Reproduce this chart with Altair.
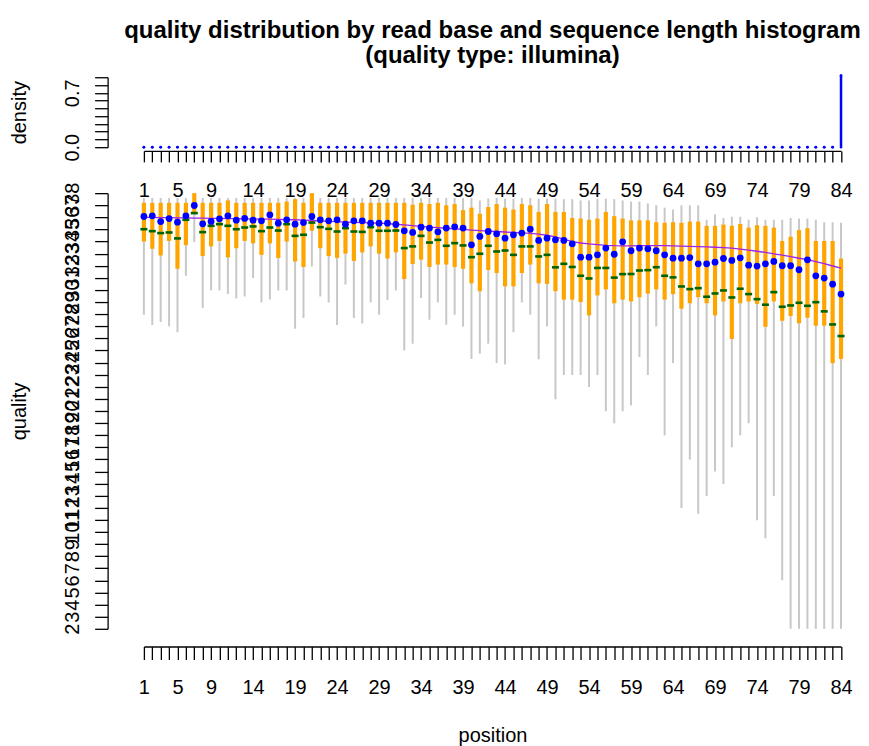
import json
import altair as alt
import pandas as pd

# ---------------- data ----------------
positions = list(range(1, 85))
x_label_values = [1, 5, 9, 14, 19, 24, 29, 34, 39, 44, 49, 54, 59, 64, 69, 74, 79, 84]

# sequence length histogram (density per length)
density = [0.0, 0.0, 0.0, 0.0, 0.0, 0.0, 0.0, 0.0, 0.0, 0.0,
           0.0, 0.0, 0.0, 0.0, 0.0, 0.0, 0.0, 0.0, 0.0, 0.0,
           0.0, 0.0, 0.0, 0.0, 0.0, 0.0, 0.0, 0.0, 0.0, 0.0,
           0.0, 0.0, 0.0, 0.0, 0.0, 0.0, 0.0, 0.0, 0.0, 0.0,
           0.0, 0.0, 0.0, 0.0, 0.0, 0.0, 0.0, 0.0, 0.0, 0.0,
           0.0, 0.0, 0.0, 0.0, 0.0, 0.0, 0.0, 0.0, 0.0, 0.0,
           0.0, 0.0, 0.0, 0.0, 0.0, 0.0, 0.0, 0.0, 0.0, 0.0,
           0.0, 0.0, 0.0, 0.0, 0.0, 0.0, 0.0, 0.0, 0.0, 0.0,
           0.0, 0.0, 0.0, 0.92]

# grey whisker (low / high)
whisker_lo = [27.95, 27.1, 27.35, 27.0, 26.5, 31.17, 33.95, 28.5, 29.96, 29.96,
              29.66, 29.3, 29.46, 30.98, 28.97, 29.21, 29.96, 29.96, 26.8, 27.68,
              31.94, 29.46, 28.97, 27.1, 30.45, 27.68, 27.23, 28.97, 27.95, 29.16,
              29.96, 25.0, 25.56, 29.33, 27.54, 28.97, 27.13, 27.95, 26.97, 24.3,
              24.73, 25.56, 23.96, 23.85, 26.5, 28.97, 27.95, 24.27, 26.99, 20.96,
              22.97, 22.97, 22.97, 21.98, 22.97, 19.97, 18.98, 19.97, 20.46, 24.46,
              22.97, 26.99, 17.98, 23.96, 11.99, 15.98, 11.5, 12.98, 14.99, 13.97,
              17.0, 17.98, 18.98, 10.97, 9.48, 12.98, 6.01, 2.0, 2.0, 2.0,
              2.0, 2.0, 2.0, 2.0]
whisker_hi = [37.6, 37.6, 37.6, 37.6, 37.6, 37.6, 38.0, 37.6, 37.6, 37.6,
              37.6, 37.6, 37.6, 37.6, 37.6, 37.6, 37.6, 37.6, 37.6, 37.6,
              38.0, 37.6, 37.6, 37.6, 37.6, 37.6, 37.6, 37.6, 37.6, 37.6,
              37.6, 37.6, 37.6, 37.6, 37.6, 37.6, 37.6, 37.6, 37.6, 37.6,
              37.4, 37.55, 37.6, 37.55, 37.55, 37.6, 37.6, 37.55, 37.55, 37.55,
              37.5, 37.5, 37.4, 37.4, 37.55, 37.55, 37.5, 37.4, 37.3, 37.3,
              37.15, 37.0, 36.8, 36.65, 37.0, 37.0, 37.0, 35.8, 36.25, 35.95,
              36.05, 36.05, 35.8, 36.0, 35.8, 35.8, 35.8, 35.95, 35.9, 35.9,
              35.8, 35.6, 35.6, 35.55]

# orange bar (lower / upper quartile)
q1 = [34.0, 33.4, 32.85, 34.05, 31.75, 33.7, 36.4, 32.8, 33.6, 34.05,
      32.7, 33.45, 34.05, 33.85, 32.9, 33.85, 32.65, 34.0, 32.35, 31.9,
      34.9, 33.45, 32.8, 32.65, 33.0, 32.4, 33.1, 33.6, 33.0, 32.6,
      33.1, 30.9, 32.15, 32.5, 31.9, 32.1, 32.1, 31.9, 31.75, 30.55,
      29.9, 31.65, 31.4, 30.3, 30.3, 31.4, 32.1, 30.55, 30.5, 29.9,
      29.2, 29.2, 29.0, 27.9, 29.55, 30.05, 28.9, 29.2, 29.05, 29.4,
      29.7, 30.05, 29.2, 29.65, 28.45, 28.9, 29.4, 28.9, 27.9, 29.05,
      25.95, 28.9, 29.05, 28.85, 26.95, 29.05, 27.45, 27.85, 27.25, 27.7,
      27.05, 27.05, 23.95, 24.3]
q3 = [37.2, 37.2, 37.2, 37.2, 37.2, 37.2, 38.0, 37.2, 37.2, 37.2,
      37.4, 37.2, 37.2, 37.2, 37.2, 37.2, 37.2, 37.3, 37.5, 37.2,
      38.0, 37.2, 37.2, 37.2, 37.2, 37.2, 37.2, 37.2, 37.2, 37.2,
      37.2, 37.2, 37.05, 37.2, 37.1, 37.2, 37.0, 37.1, 36.6, 36.8,
      36.3, 36.85, 37.1, 36.8, 36.65, 37.1, 37.0, 36.45, 37.1, 36.45,
      36.45, 35.95, 35.9, 35.8, 35.9, 36.45, 36.1, 35.9, 35.75, 35.75,
      35.75, 35.6, 35.55, 35.6, 35.55, 35.65, 35.65, 35.3, 35.3, 35.4,
      35.3, 35.45, 35.15, 35.35, 35.3, 35.15, 34.05, 34.4, 34.95, 35.1,
      34.05, 34.05, 34.05, 32.6]

# blue dots
blue_q = [36.07, 36.13, 35.65, 35.9, 35.6, 36.13, 36.98, 35.47, 35.66, 35.88,
          36.13, 35.77, 35.91, 35.77, 35.71, 36.21, 35.52, 35.8, 35.44, 35.57,
          36.07, 35.8, 35.71, 35.8, 35.44, 35.71, 35.71, 35.52, 35.52, 35.52,
          35.41, 34.89, 34.75, 35.19, 35.11, 34.8, 35.11, 35.22, 35.11, 33.73,
          34.42, 34.83, 34.64, 34.28, 34.56, 34.7, 35.02, 34.09, 34.28, 34.14,
          34.09, 33.81, 32.71, 32.71, 32.9, 33.46, 32.95, 33.98, 33.24, 33.46,
          33.4, 33.24, 32.9, 32.63, 32.63, 32.68, 32.16, 32.16, 32.3, 32.6,
          32.44, 32.66, 32.05, 31.97, 32.16, 32.36, 32.0, 32.0, 31.67, 32.49,
          31.17, 30.98, 30.48, 29.66]

# dark green dashes
green_q = [35.02, 34.86, 34.7, 34.75, 34.26, 35.8, 36.35, 34.78, 35.3, 35.44,
           35.3, 35.02, 35.16, 35.25, 34.86, 35.16, 34.91, 35.44, 34.47, 34.56,
           35.57, 35.19, 35.05, 34.83, 35.11, 34.83, 34.8, 35.19, 34.89, 34.89,
           34.91, 33.46, 33.6, 34.47, 33.92, 34.14, 33.65, 33.87, 33.68, 32.71,
           32.99, 33.65, 33.18, 33.26, 32.9, 33.6, 33.6, 32.77, 32.9, 31.87,
           32.16, 31.9, 31.17, 30.95, 31.82, 31.82, 31.02, 31.31, 31.32, 31.61,
           31.64, 31.88, 31.17, 31.04, 30.29, 30.07, 30.15, 29.44, 29.71, 29.96,
           29.38, 30.1, 29.66, 29.24, 28.78, 29.82, 28.61, 28.72, 28.94, 28.69,
           28.99, 28.23, 27.15, 26.19]

# purple smooth curve
trend = [36.0, 36.0, 35.98, 35.97, 35.96, 35.95, 35.94, 35.93, 35.92, 35.91,
         35.9, 35.89, 35.88, 35.87, 35.86, 35.85, 35.84, 35.82, 35.8, 35.77,
         35.74, 35.71, 35.67, 35.64, 35.61, 35.58, 35.56, 35.54, 35.52, 35.48,
         35.43, 35.37, 35.31, 35.25, 35.2, 35.15, 35.1, 35.05, 35.0, 34.95,
         34.9, 34.86, 34.83, 34.79, 34.75, 34.71, 34.67, 34.62, 34.52, 34.38,
         34.2, 34.0, 33.88, 33.8, 33.74, 33.69, 33.66, 33.65, 33.65, 33.66,
         33.67, 33.67, 33.66, 33.64, 33.62, 33.6, 33.58, 33.56, 33.53, 33.5,
         33.45, 33.38, 33.3, 33.2, 33.1, 32.98, 32.87, 32.75, 32.62, 32.5,
         32.35, 32.17, 31.98, 31.8]

quality_ticks = list(range(2, 39))
density_ticks = [0.0, 0.1, 0.2, 0.3, 0.4, 0.5, 0.6, 0.7, 0.8, 0.9]
density_labels = [0.0, 0.7]

title_lines = ["quality distribution by read base and sequence length histogram",
               "(quality type: illumina)"]

df = pd.DataFrame({
    "pos": positions, "density": density,
    "wlo": whisker_lo, "whi": whisker_hi, "q1": q1, "q3": q3,
    "blue": blue_q, "green": green_q, "trend": trend,
})

# ---------------- styling ----------------
FONT = "Liberation Sans"
PLOT_W = 697.7
TOP_H = 70
LOW_H = 436
AX = dict(domainColor="black", tickColor="black", labelColor="black", titleColor="black",
          domainWidth=1.3, tickWidth=1.3, grid=False, labelFont=FONT, titleFont=FONT,
          labelFontSize=20, titleFontSize=20, titleFontWeight="normal",
          labelOverlap=False, labelFlush=False, labelBound=False)

x_expr = "indexof(" + json.dumps(x_label_values) + ", datum.value) >= 0 ? format(datum.value, 'd') : ''"
d_expr = ("indexof(" + json.dumps(density_labels) + ", round(datum.value * 10) / 10) >= 0 ? "
          "format(datum.value, '.1f') : ''")

x_scale = alt.Scale(domain=[1, 84], nice=False, zero=False)
y_low_scale = alt.Scale(domain=[2, 38], nice=False, zero=False)
y_top_scale = alt.Scale(domain=[0, 0.9], nice=False, zero=False)

x_axis_top = alt.Axis(values=positions, labelExpr=x_expr, offset=3.7, tickSize=11,
                      labelPadding=18.3, title="", **AX)
x_axis_low = alt.Axis(values=positions, labelExpr=x_expr, offset=17.7, tickSize=13,
                      labelPadding=18.3, title="position", titleBaseline="alphabetic",
                      titleY=95, **AX)
y_axis_top = alt.Axis(values=density_ticks, labelExpr=d_expr, offset=36.3, tickSize=13,
                      labelPadding=16, labelAngle=270, labelAlign="center",
                      labelBaseline="alphabetic", title="density", titleAngle=270,
                      titleAlign="center", titleBaseline="alphabetic", titleX=-82, **AX)
y_axis_low = alt.Axis(values=quality_ticks, format="d", offset=36.3, tickSize=13,
                      labelPadding=16, labelAngle=270, labelAlign="center",
                      labelBaseline="alphabetic", title="quality", titleAngle=270,
                      titleAlign="center", titleBaseline="alphabetic", titleX=-82, **AX)

X_TOP = alt.X("pos:Q", scale=x_scale, axis=x_axis_top)
X_LOW = alt.X("pos:Q", scale=x_scale, axis=x_axis_low)

def ylow(field):
    return alt.Y(field + ":Q", scale=y_low_scale, axis=y_axis_low)

NO_FRAME = alt.ViewBackground(stroke="transparent", strokeOpacity=0)

base = alt.Chart(df)

# ---------------- top panel: length histogram ----------------
top_rule = base.mark_rule(color="#0000FF", strokeWidth=2.5, strokeCap="round").encode(
    x=X_TOP,
    y=alt.Y("density:Q", scale=y_top_scale, axis=y_axis_top),
    y2=alt.datum(0),
)
top_dot = base.mark_circle(color="#0000FF", size=8, opacity=1).encode(
    x=X_TOP,
    y=alt.Y("density:Q", scale=y_top_scale, axis=y_axis_top),
)
top = alt.layer(top_rule, top_dot).properties(
    width=PLOT_W, height=TOP_H, view=NO_FRAME,
    title=alt.TitleParams(text=title_lines, font=FONT, fontSize=24, fontWeight="bold",
                          color="black", anchor="middle", frame="group",
                          lineHeight=25, offset=6),
)

# ---------------- bottom panel: quality by position ----------------
whisk = base.mark_rule(color="#C8C8C8", strokeWidth=2).encode(x=X_LOW, y=ylow("wlo"), y2="whi:Q")
box = base.mark_rule(color="#FFA500", strokeWidth=4.2).encode(x=X_LOW, y=ylow("q1"), y2="q3:Q")
smooth = base.mark_line(color="#A020F0", strokeWidth=1.3).encode(x=X_LOW, y=ylow("trend"))
dash = base.mark_tick(orient="horizontal", color="#006400", size=7, thickness=2.6,
                      opacity=1).encode(x=X_LOW, y=ylow("green"))
dots = base.mark_circle(color="#0000FF", size=46, opacity=1).encode(x=X_LOW, y=ylow("blue"))

bottom = alt.layer(whisk, box, smooth, dash, dots).properties(
    width=PLOT_W, height=LOW_H, view=NO_FRAME)

chart = alt.vconcat(top, bottom, spacing=46, bounds="flush").properties(
    padding={"left": 1, "top": 11, "right": 0, "bottom": 0},
    background="white",
).configure(font=FONT).configure_view(stroke="transparent", strokeOpacity=0)

chart.save("out.html", embed_options={"renderer": "svg", "actions": False})
